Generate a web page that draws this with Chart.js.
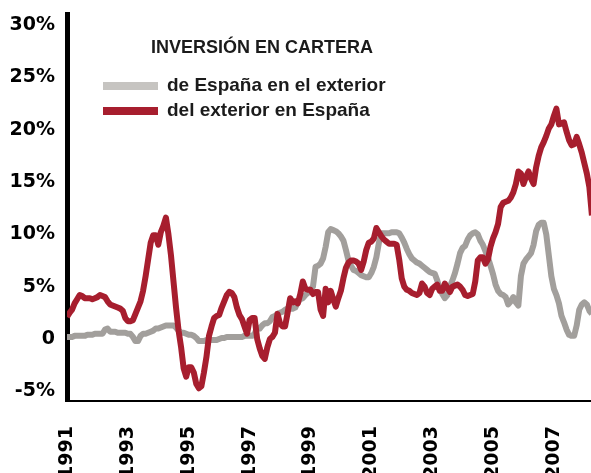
<!DOCTYPE html>
<html lang="es">
<head>
<meta charset="UTF-8">
<title>Inversión en cartera</title>
<script src="https://cdn.jsdelivr.net/npm/chart.js"></script>
<style>
  body { margin: 0; background: #fff; }
  #caja { width: 591px; height: 473px; position: relative; }
</style>
</head>
<body>
<div id="caja"><canvas id="grafico"></canvas></div>

<script>
    // datos mensuales desde enero de 1991
    var anoInicio = 1991;
    var anosEje = [1991, 1993, 1995, 1997, 1999, 2001, 2003, 2005, 2007];
    var ticksY = [-5, 0, 5, 10, 15, 20, 25, 30];
    var titulo = 'INVERSIÓN EN CARTERA';
    var nombres = ['de España en el exterior', 'del exterior en España'];

    var espanaEnExterior = [
        0.2, 0.2, 0.2, 0.3, 0.3, 0.3, 0.3, 0.3, 0.4, 0.4, 0.4, 0.5,
        0.5, 0.5, 0.5, 0.9, 1.0, 0.7, 0.7, 0.7, 0.6, 0.6, 0.6, 0.6, 0.5,
        0.5, 0.2, -0.2, -0.2, 0.3, 0.5, 0.5, 0.6, 0.7, 0.8, 1.0, 1.0,
        1.1, 1.2, 1.3, 1.3, 1.3, 1.3, 1.1, 0.8, 0.6, 0.6, 0.5, 0.4,
        0.4, 0.3, 0.1, -0.2, -0.2, -0.2, -0.1, -0.1, -0.1, -0.1, -0.1, 0.0,
        0.1, 0.1, 0.2, 0.2, 0.2, 0.2, 0.2, 0.2, 0.2, 0.3, 0.3, 0.3,
        0.3, 0.5, 1.1, 1.0, 1.3, 1.5, 1.5, 1.7, 2.1, 2.2, 2.4, 2.5,
        2.6, 2.8, 2.9, 2.9, 2.9, 3.0, 3.5, 3.8, 3.9, 4.2, 4.4, 4.7,
        5.0, 6.9, 7.0, 7.2, 7.7, 8.8, 10.2, 10.5, 10.4, 10.3, 10.1, 9.8,
        9.4, 8.5, 7.5, 7.0, 6.6, 6.5, 6.3, 6.1, 6.0, 5.9, 5.9, 6.3, 6.9,
        7.8, 9.2, 10.1, 10.1, 10.1, 10.1, 10.2, 10.2, 10.2, 10.1, 9.7, 9.2,
        8.6, 8.1, 7.7, 7.5, 7.3, 7.2, 7.0, 6.8, 6.6, 6.4, 6.3, 6.25,
        5.6, 4.8, 4.3, 3.9, 4.2, 5.0, 5.6, 6.3, 7.2, 8.2, 8.7, 8.9,
        9.5, 9.9, 10.1, 10.2, 10.0, 9.4, 9.0, 8.4, 7.8, 7.0, 6.2, 5.2,
        4.6, 4.3, 4.2, 4.0, 3.3, 3.6, 4.0, 3.5, 3.2, 6.0, 7.2, 7.6,
        7.9, 8.2, 9.0, 10.3, 10.9, 11.1, 11.1, 10.0, 8.0, 6.0, 4.8, 4.2,
        3.4, 2.2, 1.6, 0.9, 0.4, 0.3, 0.3, 1.3, 2.8, 3.3, 3.5, 3.3, 2.7, 2.4
    ];

    var exteriorEnEspana = [
        2.1, 2.5, 2.8, 3.4, 3.8, 4.2, 4.1, 3.9, 3.9, 3.9, 3.8, 3.9,
        4.0, 4.2, 4.1, 4.0, 3.6, 3.3, 3.2, 3.1, 3.0, 2.9, 2.7, 2.0, 1.7,
        1.7, 1.8, 2.4, 3.0, 3.6, 4.6, 6.0, 7.6, 9.2, 9.9, 9.9, 9.0,
        10.2, 10.8, 11.6, 10.0, 8.0, 5.5, 3.0, 0.8, -0.8, -2.8, -3.6, -2.7,
        -2.7, -3.2, -4.3, -4.7, -4.5, -3.2, -1.7, 0.3, 1.2, 2.0, 2.2, 2.3,
        3.0, 3.6, 4.2, 4.5, 4.4, 4.0, 3.0, 2.3, 1.9, 1.2, 0.5, 1.8,
        2.0, 2.0, 0.0, -0.9, -1.6, -1.9, -0.8, 0.0, 0.2, 0.6, 2.4, 1.5,
        1.2, 1.2, 2.5, 3.9, 3.5, 3.6, 3.4, 4.3, 5.5, 4.8, 4.7, 4.7,
        4.3, 4.5, 4.5, 2.8, 2.2, 4.8, 3.5, 4.6, 3.8, 3.1, 3.9, 4.6,
        5.8, 6.8, 7.3, 7.5, 7.5, 7.4, 7.2, 6.6, 7.4, 8.5, 9.2, 9.3, 9.6,
        10.6, 10.2, 9.8, 9.5, 9.3, 9.1, 9.1, 9.1, 9.0, 7.6, 5.8, 5.0,
        4.7, 4.6, 4.4, 4.3, 4.2, 4.4, 5.3, 5.0, 4.4, 4.2, 4.8, 5.0,
        5.2, 4.6, 4.6, 5.3, 4.9, 4.5, 5.0, 5.1, 5.2, 5.0, 4.7, 4.2,
        4.1, 4.2, 4.3, 5.5, 7.5, 7.8, 7.8, 7.2, 7.6, 8.8, 9.6, 10.2,
        11.0, 12.6, 13.0, 13.1, 13.2, 13.5, 14.0, 14.8, 16.0, 15.8, 14.8, 15.5,
        16.0, 15.3, 14.8, 16.4, 17.5, 18.3, 18.8, 19.4, 20.1, 20.5, 21.3, 22.0,
        20.5, 20.6, 20.7, 19.8, 19.0, 18.5, 18.6, 19.3, 18.6, 17.8, 16.8, 15.8, 14.5, 11.8
    ];

    function puntos(serie) {
        return serie.map(function (v, i) {
            return { x: anoInicio + i / 12, y: v };
        });
    }

    // titulo y leyenda dentro del area del grafico
    var leyenda = {
        id: 'leyenda',
        afterDraw: function (chart) {
            var ctx = chart.ctx;
            ctx.save();
            ctx.fillStyle = '#1b1b1b';
            ctx.font = 'bold 18px "Liberation Sans"';
            ctx.textAlign = 'center';
            ctx.fillText(titulo, 262, 53);

            ctx.textAlign = 'left';
            ctx.font = 'bold 19px "Liberation Sans"';
            chart.data.datasets.forEach(function (ds, k) {
                var y = 86 + k * 25;
                ctx.fillStyle = ds.colorLeyenda;
                ctx.fillRect(103, y - 4, 55, 8);
                ctx.fillStyle = '#1b1b1b';
                ctx.fillText(ds.label, 167, y + 5);
            });
            ctx.restore();
        }
    };

    var fuenteEje = { family: 'DejaVu Sans', weight: 'bold', size: 19 };

    var ctx = document.getElementById('grafico').getContext('2d');

    new Chart(ctx, {
        type: 'line',
        data: {
            datasets: [
                {
                    label: nombres[0],
                    data: puntos(espanaEnExterior),
                    borderColor: '#a29f9c',
                    colorLeyenda: '#c6c4c1',
                    borderWidth: 6,
                    pointRadius: 0,
                    borderJoinStyle: 'round',
                    order: 2
                },
                {
                    label: nombres[1],
                    data: puntos(exteriorEnEspana),
                    borderColor: '#a71e2e',
                    colorLeyenda: '#a71e2e',
                    borderWidth: 6,
                    pointRadius: 0,
                    borderJoinStyle: 'round',
                    order: 1
                }
            ]
        },
        options: {
            responsive: true,
            maintainAspectRatio: false,
            animation: false,
            layout: { padding: { top: 14, right: 0, left: 0, bottom: 0 } },
            plugins: {
                legend: { display: false },
                tooltip: { enabled: false }
            },
            scales: {
                x: {
                    type: 'linear',
                    min: 1991,
                    max: 2008.22,
                    grid: { display: false, drawTicks: false },
                    border: { display: true, color: '#000', width: 2 },
                    afterBuildTicks: function (s) {
                        s.ticks = anosEje.map(function (a) { return { value: a }; });
                    },
                    afterFit: function (s) {
                        s.height = 72;
                        s.paddingLeft = 0;
                        s.paddingRight = 0;
                    },
                    ticks: {
                        autoSkip: false,
                        minRotation: 90,
                        maxRotation: 90,
                        padding: 25,
                        color: '#000',
                        font: fuenteEje,
                        callback: function (v) { return String(v); }
                    }
                },
                y: {
                    min: -5.92,
                    max: 31.04,
                    grid: { display: false, drawTicks: false },
                    border: { display: true, color: '#000', width: 5 },
                    afterBuildTicks: function (s) {
                        s.ticks = ticksY.map(function (v) { return { value: v }; });
                    },
                    afterFit: function (s) {
                        s.width = 67;
                        s.paddingTop = 0;
                        s.paddingBottom = 0;
                    },
                    ticks: {
                        padding: 12,
                        color: '#000',
                        font: fuenteEje,
                        callback: function (v) { return v === 0 ? '0' : v + '%'; }
                    }
                }
            }
        },
        plugins: [leyenda]
    });
</script>
</body>
</html>
